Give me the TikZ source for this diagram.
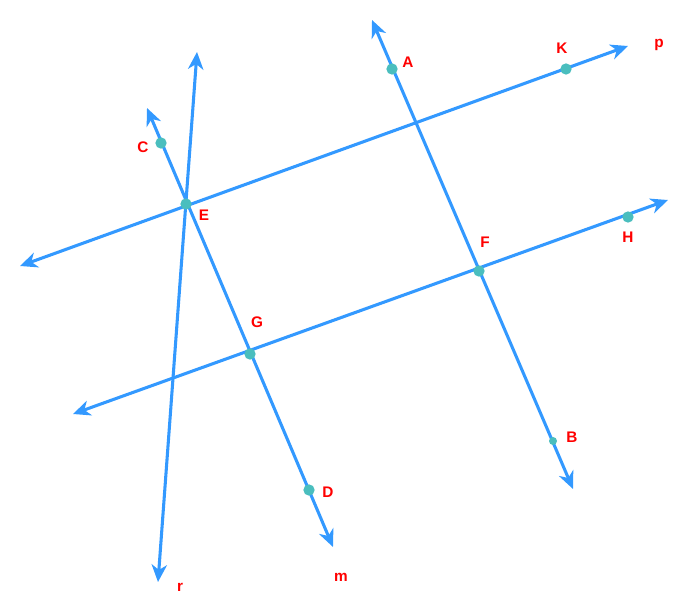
\documentclass[tikz,border=0pt]{standalone}
\usepackage{fontspec}
\setmainfont{Liberation Sans}
\usetikzlibrary{arrows.meta}
\definecolor{lineblue}{RGB}{51,153,255}
\definecolor{dotteal}{RGB}{74,190,190}
\definecolor{labelred}{RGB}{255,0,0}

\begin{document}
\begin{tikzpicture}[x=0.75pt,y=-0.75pt,
        ray/.style={draw=lineblue, line width=2.3pt, {Stealth[length=13pt,width=11.5pt,inset=4pt]}-{Stealth[length=13pt,width=11.5pt,inset=4pt]}},
        pt/.style={circle, fill=dotteal, inner sep=0pt, minimum size=8.5pt},
        smallpt/.style={circle, fill=dotteal, inner sep=0pt, minimum size=6pt},
        lbl/.style={text=labelred, font=\bfseries\fontsize{11.5pt}{13pt}\selectfont, inner sep=0pt}]
    \useasboundingbox (0,0) rectangle (691,613);
    % ends of the lines
    \coordinate (p1) at (20,266);   \coordinate (p2) at (628,46);
    \coordinate (q1) at (73,414);   \coordinate (q2) at (668,200);
    \coordinate (r1) at (197,52);   \coordinate (r2) at (158,582);
    \coordinate (m1) at (147,108);  \coordinate (m2) at (333,547);
    \coordinate (n1) at (372,20);   \coordinate (n2) at (573,489);
    \draw[ray] (p1) -- (p2);
    \draw[ray] (q1) -- (q2);
    \draw[ray] (r1) -- (r2);
    \draw[ray] (m1) -- (m2);
    \draw[ray] (n1) -- (n2);
    % points
    \node[pt] (C) at (161,143) {};
    \node[pt] (E) at (186,204) {};
    \node[pt] (G) at (250,354) {};
    \node[pt] (D) at (309,490) {};
    \node[pt] (A) at (392,69) {};
    \node[pt] (K) at (566,69) {};
    \node[pt] (F) at (479,271) {};
    \node[pt] (H) at (628,217) {};
    \node[smallpt] (B) at (553,441) {};
    % labels
    \node[lbl] (lC) at (143,147) {C};
    \node[lbl] (lE) at (204,215) {E};
    \node[lbl] (lA) at (408,62) {A};
    \node[lbl] (lK) at (562,48) {K};
    \node[lbl] (lp) at (659,45) {p};
    \node[lbl] (lF) at (485,242) {F};
    \node[lbl] (lH) at (628,237) {H};
    \node[lbl] (lG) at (257,322) {G};
    \node[lbl] (lB) at (572,437) {B};
    \node[lbl] (lD) at (328,492) {D};
    \node[lbl] (lr) at (180,587) {r};
    \node[lbl] (lm) at (341,577) {m};
\end{tikzpicture}
\end{document}
